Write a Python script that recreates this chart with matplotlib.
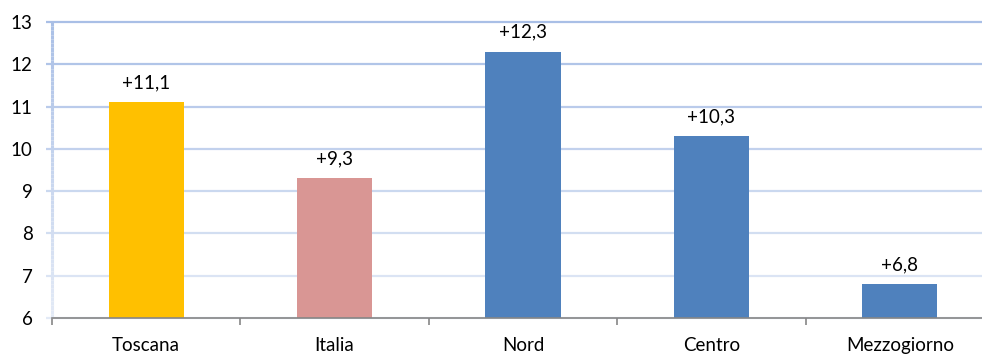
import matplotlib
matplotlib.use("Agg")
import matplotlib.pyplot as plt
import numpy as np
from matplotlib.colors import to_rgb

categories = ["Toscana", "Italia", "Nord", "Centro", "Mezzogiorno"]
values = [11.1, 9.3, 12.3, 10.3, 6.8]
labels = ["+11,1", "+9,3", "+12,3", "+10,3", "+6,8"]
bar_colors = ["#FFC000", "#D99694", "#4F81BD", "#4F81BD", "#4F81BD"]
y_ticks = [6, 7, 8, 9, 10, 11, 12, 13]

plt.rcParams["font.family"] = ["Lato", "DejaVu Sans"]
FS = 13.5

fig = plt.figure(figsize=(9.82, 3.56), dpi=100)
# axes spans slightly past the right edge of the canvas
ax = fig.add_axes([52 / 982, 38 / 356, 942 / 982, 296 / 356])

x = np.arange(len(categories))
ax.bar(x, values, width=0.40, color=bar_colors, bottom=0, zorder=3)
ax.set_xlim(-0.5, len(categories) - 0.5)
ax.set_ylim(6, 13)

# gridlines fading from top to bottom
top_c = np.array(to_rgb("#A9BFE6"))
bot_c = np.array(to_rgb("#E3EAF6"))
def grid_color(v):
    t = (v - 6) / 7
    return tuple(bot_c + (top_c - bot_c) * t)

for v in y_ticks:
    ax.plot([-0.5 - 0.032, len(categories) - 0.5], [v, v], color=grid_color(v),
            lw=1.6, zorder=1, clip_on=False, solid_capstyle="butt")

# left axis line with the same fade
for v0 in np.linspace(6, 13, 71)[:-1]:
    ax.plot([-0.5, -0.5], [v0, v0 + 0.1], color=grid_color(v0 + 0.05), lw=2.2,
            zorder=2, clip_on=False, solid_capstyle="butt")

for s in ["left", "right", "top"]:
    ax.spines[s].set_visible(False)
ax.spines["bottom"].set_color("#868686")
ax.spines["bottom"].set_linewidth(1.2)
ax.spines["bottom"].set_zorder(4)

ax.set_yticks(y_ticks)
ax.set_yticklabels([str(v) for v in y_ticks], fontsize=FS)
ax.tick_params(axis="y", length=0, pad=14)

ax.set_xticks(np.arange(-0.5, len(categories), 1.0))
ax.set_xticklabels([])
ax.set_xticks(x, minor=True)
ax.set_xticklabels(categories, minor=True, fontsize=FS)
ax.tick_params(axis="x", which="major", length=5, color="#868686", width=1.2, direction="out")
ax.tick_params(axis="x", which="minor", length=0, pad=14)

for xi, v, lab in zip(x, values, labels):
    ax.annotate(lab, (xi, v), xytext=(0, 8), textcoords="offset points",
                ha="center", va="bottom", fontsize=FS, color="black", zorder=5,
                annotation_clip=False)

fig.savefig("out.png", dpi=100, facecolor="white")
